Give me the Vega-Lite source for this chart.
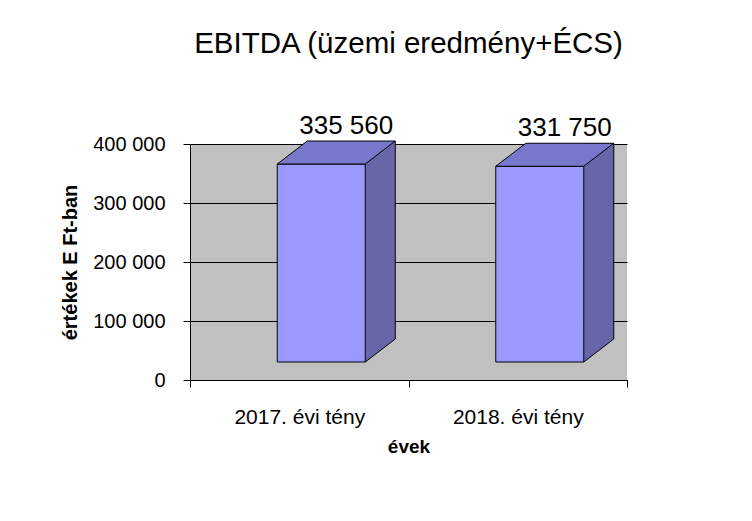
{
  "$schema": "https://vega.github.io/schema/vega-lite/v6.json",
  "width": 437,
  "height": 236,
  "autosize": "none",
  "padding": {"left": 190, "top": 144, "right": 125, "bottom": 141},
  "background": "white",
  "title": {
    "text": "EBITDA (üzemi eredmény+ÉCS)",
    "font": "Liberation Sans",
    "fontSize": 29.5,
    "fontWeight": "normal",
    "color": "black",
    "anchor": "middle",
    "baseline": "alphabetic",
    "offset": 31
  },
  "data": {
    "values": [
      {"ev": "2017. évi tény", "ertek": 335560},
      {"ev": "2018. évi tény", "ertek": 331750}
    ]
  },
  "encoding": {
    "x": {
      "field": "ev",
      "type": "nominal",
      "sort": null,
      "title": "évek",
      "scale": {"paddingInner": 0, "paddingOuter": 0},
      "axis": {
        "domainColor": "black",
        "tickColor": "black",
        "tickSize": 7,
        "tickBand": "extent",
        "labelFont": "Liberation Sans",
        "labelFontSize": 21,
        "labelColor": "black",
        "labelAngle": 0,
        "labelBaseline": "alphabetic",
        "labelPadding": 36,
        "titleFont": "Liberation Sans",
        "titleFontSize": 19,
        "titleFontWeight": "bold",
        "titleColor": "black",
        "titleBaseline": "alphabetic",
        "titleY": 72,
        "grid": false
      }
    },
    "y": {
      "field": "ertek",
      "type": "quantitative",
      "title": "értékek E Ft-ban",
      "scale": {"domain": [0, 400000]},
      "axis": {
        "tickCount": 4,
        "format": ",d",
        "domainColor": "black",
        "tickColor": "black",
        "tickSize": 7,
        "labelPadding": 18,
        "labelFont": "Liberation Sans",
        "labelFontSize": 20,
        "labelColor": "black",
        "grid": true,
        "gridColor": "black",
        "gridOpacity": 1,
        "titleFont": "Liberation Sans",
        "titleFontSize": 20,
        "titleFontWeight": "bold",
        "titleColor": "black",
        "titleAngle": 270,
        "titleBaseline": "bottom",
        "titleAlign": "center",
        "titleX": -110,
        "titleY": 118
      }
    }
  },
  "layer": [
    {
      "mark": {"type": "bar", "fill": "#6666A8", "width": 30, "xOffset": 81, "yOffset": -41, "y2Offset": -18},
      "encoding": {"y2": {"datum": 0}}
    },
    {
      "mark": {"type": "point", "shape": "M0,0L0.5,-0.3833L0.52,-0.3833L0.52,0.05L0,0.05Z", "size": 14400, "filled": true, "fill": "#C0C0C0", "strokeWidth": 0, "opacity": 1, "xOffset": 66, "yOffset": -18},
      "encoding": {"y": {"datum": 0}}
    },
    {
      "mark": {"type": "bar", "fill": "#9999FF", "stroke": "black", "strokeWidth": 1, "width": 88, "xOffset": 22, "yOffset": -18, "y2Offset": -18},
      "encoding": {"y2": {"datum": 0}}
    },
    {
      "mark": {"type": "point", "shape": "M-0.7333,0L0.7333,0L1.2333,-0.3833L-0.2333,-0.3833Z", "size": 14400, "filled": true, "fill": "#7777CC", "stroke": "black", "strokeWidth": 1, "opacity": 1, "xOffset": 22, "yOffset": -18}
    },
    {
      "mark": {"type": "rule", "stroke": "black", "strokeWidth": 1, "xOffset": 66, "x2Offset": 96, "yOffset": -18, "y2Offset": -41},
      "encoding": {"x2": {"field": "ev"}, "y": {"datum": 0}, "y2": {"datum": 0}}
    },
    {
      "mark": {"type": "rule", "stroke": "black", "strokeWidth": 1, "xOffset": 96, "yOffset": -41, "y2Offset": -41},
      "encoding": {"y2": {"datum": 0}}
    },
    {
      "mark": {"type": "text", "font": "Liberation Sans", "fontSize": 26, "color": "black", "baseline": "alphabetic", "align": "center", "dx": 47, "dy": -48},
      "encoding": {"text": {"field": "ertek", "type": "quantitative", "format": ","}}
    }
  ],
  "config": {
    "font": "Liberation Sans",
    "view": {"fill": "#C0C0C0", "stroke": null},
    "locale": {"number": {"decimal": ",", "thousands": " ", "grouping": [3], "currency": ["", ""]}}
  }
}
